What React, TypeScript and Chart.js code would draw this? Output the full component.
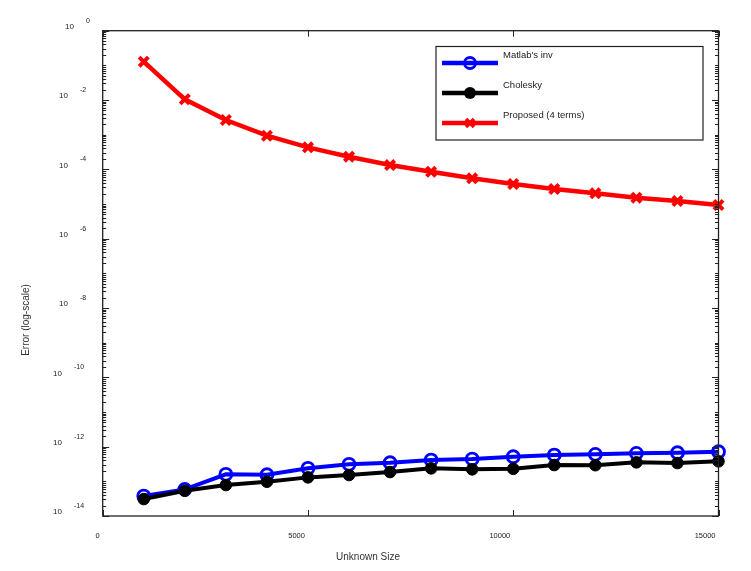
import React, { useEffect, useRef } from 'react';
import { Chart, registerables } from 'chart.js';

Chart.register(...registerables);

// ---- data ----
const unknownSizes = [1000, 2000, 3000, 4000, 5000, 6000, 7000, 8000, 9000, 10000, 11000, 12000, 13000, 14000, 15000];
const matlabInv = [3.76e-14, 5.86e-14, 1.59e-13, 1.55e-13, 2.37e-13, 3.09e-13, 3.44e-13, 4.11e-13, 4.4e-13, 5.12e-13, 5.73e-13, 6.0e-13, 6.41e-13, 6.68e-13, 7.13e-13];
const cholesky = [3.08e-14, 5.35e-14, 7.81e-14, 9.73e-14, 1.3e-13, 1.52e-13, 1.85e-13, 2.37e-13, 2.22e-13, 2.3e-13, 2.95e-13, 2.92e-13, 3.53e-13, 3.37e-13, 3.78e-13];
const proposed = [0.1275, 0.0105, 2.65e-3, 9.35e-4, 4.32e-4, 2.32e-4, 1.33e-4, 8.55e-5, 5.51e-5, 3.77e-5, 2.71e-5, 2.04e-5, 1.52e-5, 1.22e-5, 9.35e-6];
const seriesNames = ["Matlab's inv", 'Cholesky', 'Proposed (4 terms)'];
const seriesColors = ['#0000ff', '#000000', '#ff0000'];
const xTickValues = [0, 5000, 10000, 15000];
const yTickExponents = [0, -2, -4, -6, -8, -10, -12, -14];
const xTitle = 'Unknown Size';
const yTitle = 'Error (log-scale)';

const FONT = '"Liberation Sans", Arial, sans-serif';
const AXIS = '#222222';

function drawMarker(ctx: CanvasRenderingContext2D, kind: number, x: number, y: number) {
  ctx.save();
  if (kind === 0) {
    ctx.strokeStyle = seriesColors[0];
    ctx.lineWidth = 2.8;
    ctx.beginPath();
    ctx.arc(x, y, 5.5, 0, Math.PI * 2);
    ctx.stroke();
  } else if (kind === 1) {
    ctx.fillStyle = seriesColors[1];
    ctx.beginPath();
    ctx.arc(x, y, 6, 0, Math.PI * 2);
    ctx.fill();
  } else {
    ctx.strokeStyle = seriesColors[2];
    ctx.lineWidth = 3.5;
    const r = 4;
    ctx.beginPath();
    ctx.moveTo(x - r, y - r);
    ctx.lineTo(x + r, y + r);
    ctx.moveTo(x + r, y - r);
    ctx.lineTo(x - r, y + r);
    ctx.stroke();
  }
  ctx.restore();
}

const framePlugin = {
  id: 'frameDecor',
  afterDraw(chart: any) {
    const ctx: CanvasRenderingContext2D = chart.ctx;
    const { left, right, top, bottom } = chart.chartArea;
    const ys = chart.scales.y;
    const xs = chart.scales.x;
    ctx.save();

    // box
    ctx.strokeStyle = AXIS;
    ctx.lineWidth = 1.3;
    ctx.strokeRect(left, top, right - left, bottom - top);

    // log ticks (inward, left and right)
    ctx.lineWidth = 1;
    for (let d = 0; d >= -14; d--) {
      for (let m = 1; m <= 9; m++) {
        const v = m * Math.pow(10, d);
        if (v > 1.0000001 || v < 0.999e-14) continue;
        const py = Math.round(ys.getPixelForValue(v)) + 0.5;
        let len = 3.5;
        if (m === 1 && d % 2 === 0) len = 6.5;
        ctx.beginPath();
        ctx.moveTo(left, py);
        ctx.lineTo(left + len, py);
        ctx.moveTo(right, py);
        ctx.lineTo(right - len, py);
        ctx.stroke();
      }
    }
    // x ticks (inward, bottom and top)
    for (const v of xTickValues) {
      const px = Math.round(xs.getPixelForValue(v)) + 0.5;
      ctx.beginPath();
      ctx.moveTo(px, bottom);
      ctx.lineTo(px, bottom - 6);
      ctx.moveTo(px, top);
      ctx.lineTo(px, top + 6);
      ctx.stroke();
    }

    // y tick labels: 10 with superscript exponent
    ctx.fillStyle = AXIS;
    ctx.textBaseline = 'middle';
    for (const e of yTickExponents) {
      const py = ys.getPixelForValue(Math.pow(10, e));
      const expText = e === 0 ? '0' : String(e);
      const baseRight = 80 - 6 * expText.length;
      ctx.font = `8px ${FONT}`;
      ctx.textAlign = 'right';
      ctx.fillText('10', baseRight, py - 4);
      ctx.font = `7px ${FONT}`;
      ctx.textAlign = 'left';
      ctx.fillText(expText, baseRight + 12, py - 10);
    }

    // axis titles
    ctx.font = `10px ${FONT}`;
    ctx.fillStyle = '#333';
    ctx.textAlign = 'center';
    ctx.fillText(xTitle, 368, 557);
    ctx.save();
    ctx.translate(26, 320);
    ctx.rotate(-Math.PI / 2);
    ctx.fillText(yTitle, 0, 0);
    ctx.restore();

    // legend
    const lx = 436, ly = 46.5, lw = 267, lh = 93.5;
    ctx.fillStyle = '#ffffff';
    ctx.fillRect(lx, ly, lw, lh);
    ctx.strokeStyle = AXIS;
    ctx.lineWidth = 1.2;
    ctx.strokeRect(lx, ly, lw, lh);
    for (let i = 0; i < seriesNames.length; i++) {
      const yy = 63 + 30 * i;
      ctx.strokeStyle = seriesColors[i];
      ctx.lineWidth = 4.3;
      ctx.beginPath();
      ctx.moveTo(442, yy);
      ctx.lineTo(498, yy);
      ctx.stroke();
      drawMarker(ctx, i, 470, yy);
      ctx.fillStyle = '#222';
      ctx.font = `9.5px ${FONT}`;
      ctx.textAlign = 'left';
      ctx.textBaseline = 'middle';
      ctx.fillText(seriesNames[i], 503, yy - 8);
    }
    ctx.restore();
  },
};

export default function App() {
  const canvasRef = useRef<HTMLCanvasElement | null>(null);

  useEffect(() => {
    const canvas = canvasRef.current;
    if (!canvas) return;
    const mk = (arr: number[]) => unknownSizes.map((x, i) => ({ x, y: arr[i] }));
    const chart = new Chart(canvas, {
      type: 'line',
      data: {
        datasets: [
          {
            label: seriesNames[0],
            data: mk(matlabInv),
            borderColor: seriesColors[0],
            backgroundColor: 'rgba(0,0,0,0)',
            borderWidth: 4,
            pointStyle: 'circle',
            pointRadius: 6,
            pointBorderWidth: 2.8,
            pointBorderColor: seriesColors[0],
            pointBackgroundColor: 'rgba(255,255,255,0)',
            tension: 0,
            clip: false,
            order: 2,
          },
          {
            label: seriesNames[1],
            data: mk(cholesky),
            borderColor: seriesColors[1],
            backgroundColor: seriesColors[1],
            borderWidth: 4,
            pointStyle: 'circle',
            pointRadius: 5.8,
            pointBorderWidth: 1,
            pointBorderColor: seriesColors[1],
            pointBackgroundColor: seriesColors[1],
            tension: 0,
            clip: false,
            order: 1,
          },
          {
            label: seriesNames[2],
            data: mk(proposed),
            borderColor: seriesColors[2],
            backgroundColor: seriesColors[2],
            borderWidth: 4.5,
            pointStyle: 'crossRot',
            pointRadius: 6.5,
            pointBorderWidth: 4,
            pointBorderColor: seriesColors[2],
            tension: 0,
            clip: false,
            order: 0,
          },
        ] as any,
      },
      options: {
        responsive: false,
        animation: false,
        devicePixelRatio: 1,
        layout: { padding: { left: 0, right: 32.5, top: 30.7, bottom: 0 } },
        plugins: {
          legend: { display: false },
          title: { display: false },
          tooltip: { enabled: false },
        },
        scales: {
          x: {
            type: 'linear',
            min: 0,
            max: 15000,
            afterBuildTicks: (s: any) => {
              s.ticks = xTickValues.map((v) => ({ value: v }));
            },
            afterFit: (s: any) => {
              s.height = 55;
            },
            ticks: {
              font: { family: FONT, size: 7.5 },
              color: AXIS,
              align: 'end',
              labelOffset: -3,
              padding: 7,
              maxRotation: 0,
              autoSkip: false,
              callback: (v: any) => String(v),
            },
            grid: { display: false },
            border: { display: false },
          },
          y: {
            type: 'logarithmic',
            min: 1e-14,
            max: 1,
            afterFit: (s: any) => {
              s.width = 102.7;
            },
            ticks: { display: false },
            grid: { display: false },
            border: { display: false },
          },
        } as any,
      },
      plugins: [framePlugin],
    });
    return () => chart.destroy();
  }, []);

  return (
    <div style={{ position: 'absolute', left: 0, top: 0, width: 751, height: 571, background: '#fff' }}>
      <canvas ref={canvasRef} width={751} height={571} style={{ display: 'block' }} />
    </div>
  );
}
